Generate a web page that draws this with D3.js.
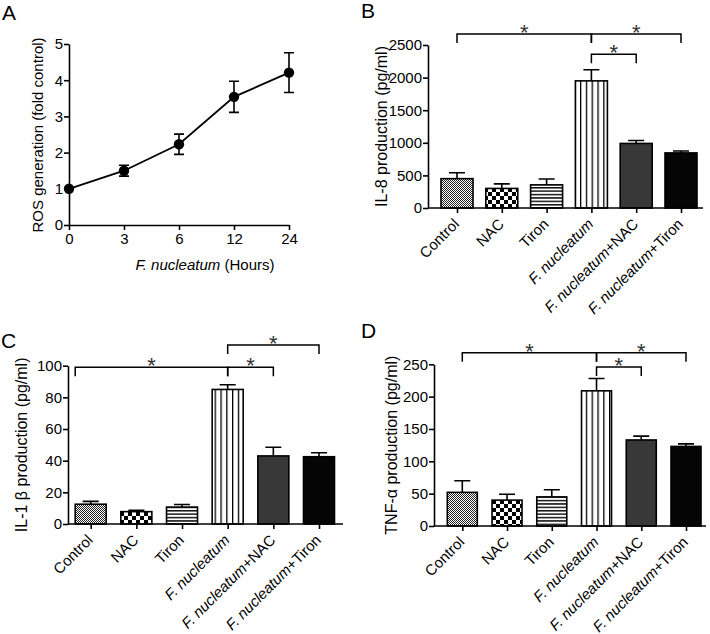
<!DOCTYPE html>
<html>
<head>
<meta charset="utf-8">
<script src="https://cdn.jsdelivr.net/npm/d3@7"></script>
<style>
body { margin: 0; background: #fff; }
svg { font-family: "Liberation Sans", Arial, sans-serif; }
.axis path, .axis line { stroke: #000; stroke-width: 1.6px; }
.axis text { font-size: 15px; fill: #000; font-family: "Liberation Sans", Arial, sans-serif; }
</style>
</head>
<body>
<script>
// A: ROS generation over time
var hours = [0, 3, 6, 12, 24];
var rosMean = [1.0, 1.5, 2.23, 3.54, 4.21];
var rosErr = [0, 0.15, 0.28, 0.43, 0.55];
var rosTicks = [0, 1, 2, 3, 4, 5];

// B-D: cytokine production per treatment
var groups = ["Control", "NAC", "Tiron", "F. nucleatum", "F. nucleatum+NAC", "F. nucleatum+Tiron"];
var il8 = [450, 300, 355, 1950, 990, 845];
var il8Err = [90, 70, 90, 170, 45, 30];
var il8Ticks = [0, 500, 1000, 1500, 2000, 2500];
var il1b = [12.5, 7.8, 10.7, 85, 43, 42.5];
var il1bErr = [1.8, 0.8, 1.6, 3, 5.5, 2.5];
var il1bTicks = [0, 20, 40, 60, 80, 100];
var tnf = [52, 40, 45, 209, 133, 123];
var tnfErr = [18, 9, 11, 19, 6, 4];
var tnfTicks = [0, 50, 100, 150, 200, 250];

// significance brackets: from group, to group, height (data units), start at bar edge?
var il8Sig = [[0, 3, 2670, false], [3, 5, 2670, false], [3, 4, 2360, false]];
var il1bSig = [[0, 3, 99, true], [3, 4, 99, false], [3, 5, 113, false]];
var tnfSig = [[0, 3, 268, false], [3, 5, 268, false], [3, 4, 246, false]];

var fills = ["url(#pControl)", "url(#pNac)", "url(#pTiron)", "url(#pFn)", "#383838", "#050505"];

var svg = d3.select("body").append("svg")
	.attr("width", 710)
	.attr("height", 634);

var defs = svg.append("defs");
var p = defs.append("pattern").attr("id", "pControl").attr("patternUnits", "userSpaceOnUse")
	.attr("width", 2).attr("height", 2);
p.append("rect").attr("width", 2).attr("height", 2).attr("fill", "#fff");
p.append("rect").attr("width", 1).attr("height", 1).attr("fill", "#222");
p.append("rect").attr("x", 1).attr("y", 1).attr("width", 1).attr("height", 1).attr("fill", "#222");

p = defs.append("pattern").attr("id", "pNac").attr("patternUnits", "userSpaceOnUse")
	.attr("width", 8).attr("height", 8);
p.append("rect").attr("width", 8).attr("height", 8).attr("fill", "#fff");
p.append("rect").attr("width", 4).attr("height", 4).attr("fill", "#000");
p.append("rect").attr("x", 4).attr("y", 4).attr("width", 4).attr("height", 4).attr("fill", "#000");

p = defs.append("pattern").attr("id", "pTiron").attr("patternUnits", "userSpaceOnUse")
	.attr("width", 4).attr("height", 3.4);
p.append("rect").attr("width", 4).attr("height", 3.4).attr("fill", "#fff");
p.append("rect").attr("width", 4).attr("height", 1.5).attr("fill", "#111");

p = defs.append("pattern").attr("id", "pFn").attr("patternUnits", "userSpaceOnUse")
	.attr("width", 5.8).attr("height", 4);
p.append("rect").attr("width", 5.8).attr("height", 4).attr("fill", "#fff");
p.append("rect").attr("width", 1.3).attr("height", 4).attr("fill", "#000");

var fmt = d3.format("d");

function letter(txt, x, y) {
	svg.append("text").attr("x", x).attr("y", y)
		.attr("font-size", 21).text(txt);
}

function yTitle(s, x, y, size) {
	svg.append("text")
		.attr("transform", "translate(" + x + "," + y + ") rotate(-90)")
		.attr("text-anchor", "middle")
		.attr("font-size", size)
		.text(s);
}

// ---------- panel A ----------
letter("A", 2, 20);
var xA = d3.scalePoint().domain(hours).range([69, 289]);
var yA = d3.scaleLinear().domain([0, 5]).range([225, 44]);
var gA = svg.append("g");

gA.append("g").attr("class", "axis")
	.attr("transform", "translate(69,0)")
	.call(d3.axisLeft(yA).tickValues(rosTicks).tickFormat(fmt).tickSize(5).tickSizeOuter(0).tickPadding(1));
gA.append("g").attr("class", "axis")
	.attr("transform", "translate(0,225)")
	.call(d3.axisBottom(xA).tickSize(5).tickSizeOuter(0).tickPadding(3));

var line = d3.line()
	.x(function (d, i) { return xA(hours[i]); })
	.y(function (d) { return yA(d); });
gA.append("path").datum(rosMean)
	.attr("d", line).attr("fill", "none").attr("stroke", "#000").attr("stroke-width", 1.8);

rosMean.forEach(function (m, i) {
	if (rosErr[i] > 0) {
		var cx = xA(hours[i]);
		gA.append("path")
			.attr("d", "M" + (cx - 5) + "," + yA(m + rosErr[i]) + "H" + (cx + 5) +
				"M" + cx + "," + yA(m + rosErr[i]) + "V" + yA(m - rosErr[i]) +
				"M" + (cx - 5) + "," + yA(m - rosErr[i]) + "H" + (cx + 5))
			.attr("stroke", "#000").attr("stroke-width", 1.6).attr("fill", "none");
	}
});
gA.selectAll("circle").data(rosMean).enter().append("circle")
	.attr("cx", function (d, i) { return xA(hours[i]); })
	.attr("cy", function (d) { return yA(d); })
	.attr("r", 5.2).attr("fill", "#000");

yTitle("ROS generation (fold control)", 43, 135, 15);
var tA = svg.append("text").attr("x", 205).attr("y", 270)
	.attr("text-anchor", "middle").attr("font-size", 15);
tA.append("tspan").attr("font-style", "italic").text("F. nucleatum");
tA.append("tspan").text(" (Hours)");

// ---------- bar panels ----------
function barPanel(o) {
	var x = d3.scalePoint().domain(groups).range([o.c0, o.c1]);
	var y = d3.scaleLinear().domain([0, d3.max(o.ticks)]).range([o.y0, o.y1]);
	var bw = o.bw;
	var g = svg.append("g");

	g.selectAll(".bar").data(o.values).enter().append("rect")
		.attr("class", "bar")
		.attr("x", function (d, i) { return x(groups[i]) - bw / 2; })
		.attr("y", function (d) { return y(d); })
		.attr("width", bw)
		.attr("height", function (d) { return o.y0 - y(d); })
		.attr("fill", function (d, i) { return fills[i]; })
		.attr("stroke", "#000").attr("stroke-width", 1.6);

	g.selectAll(".err").data(o.values).enter().append("path")
		.attr("class", "err")
		.attr("d", function (d, i) {
			var cx = x(groups[i]), top = y(d + o.errs[i]);
			return "M" + cx + "," + y(d) + "V" + top + "M" + (cx - 8) + "," + top + "H" + (cx + 8);
		})
		.attr("stroke", "#000").attr("stroke-width", 1.6).attr("fill", "none");

	g.append("g").attr("class", "axis")
		.attr("transform", "translate(" + o.ax + ",0)")
		.call(d3.axisLeft(y).tickValues(o.ticks).tickFormat(fmt).tickSize(5).tickSizeOuter(0).tickPadding(1));

	var xa = g.append("g").attr("class", "axis")
		.attr("transform", "translate(0," + o.y0 + ")")
		.call(d3.axisBottom(x).tickSize(5).tickSizeOuter(0).tickFormat(""));
	xa.select(".domain").remove();
	g.append("line").attr("x1", o.ax).attr("x2", o.axEnd)
		.attr("y1", o.y0).attr("y2", o.y0)
		.attr("stroke", "#000").attr("stroke-width", 1.6);

	groups.forEach(function (name) {
		var t = g.append("text")
			.attr("transform", "translate(" + (x(name) + 3) + "," + (o.y0 + 17) + ") rotate(-45)")
			.attr("text-anchor", "end")
			.attr("font-size", 15);
		if (name.indexOf("F. nucleatum") === 0) {
			t.append("tspan").attr("font-style", "italic").text("F. nucleatum");
			if (name.length > 12) t.append("tspan").text(name.slice(12));
		} else {
			t.text(name);
		}
	});

	o.sig.forEach(function (s) {
		var x1 = x(groups[s[0]]) - (s[3] ? bw / 2 : 0);
		var x2 = x(groups[s[1]]);
		var yb = y(s[2]);
		g.append("path")
			.attr("d", "M" + x1 + "," + (yb + 9) + "V" + yb + "H" + x2 + "V" + (yb + 9))
			.attr("stroke", "#000").attr("stroke-width", 1.5).attr("fill", "none");
		g.append("text").attr("x", (x1 + x2) / 2).attr("y", yb + 6)
			.attr("text-anchor", "middle").attr("font-size", 22).attr("fill", "#333")
			.text("*");
	});

	yTitle(o.title, o.labX, (o.y0 + o.y1) / 2, 16);
}

letter("B", 361, 18);
barPanel({ values: il8, errs: il8Err, ticks: il8Ticks, sig: il8Sig,
	ax: 428, axEnd: 703, y0: 208, y1: 45, c0: 457, c1: 681, bw: 32,
	labX: 387, title: "IL-8 production (pg/ml)" });

letter("C", 1, 348);
barPanel({ values: il1b, errs: il1bErr, ticks: il1bTicks, sig: il1bSig,
	ax: 68, axEnd: 343, y0: 524, y1: 365.7, c0: 90.7, c1: 319, bw: 31,
	labX: 27, title: "IL-1 \u03b2 production (pg/ml)" });

letter("D", 361, 338);
barPanel({ values: tnf, errs: tnfErr, ticks: tnfTicks, sig: tnfSig,
	ax: 434, axEnd: 706, y0: 526, y1: 364.3, c0: 462.3, c1: 686, bw: 30,
	labX: 397, title: "TNF-\u03b1 production (pg/ml)" });
</script>
</body>
</html>
